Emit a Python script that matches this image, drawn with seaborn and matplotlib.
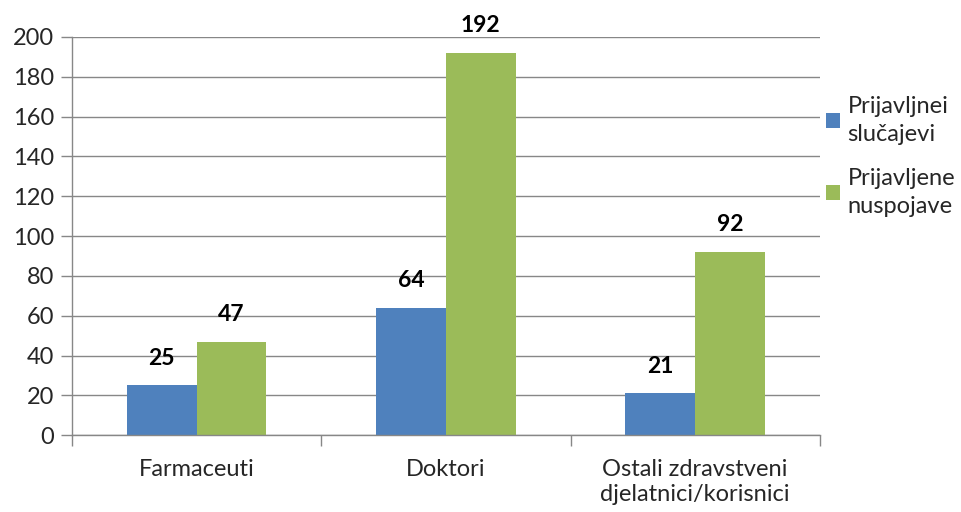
import matplotlib
matplotlib.use("Agg")
import matplotlib.pyplot as plt
import seaborn as sns
import pandas as pd
from matplotlib.ticker import FixedLocator

categories = ["Farmaceuti", "Doktori", "Ostali zdravstveni\ndjelatnici/korisnici"]
series_names = ["Prijavljnei\nslučajevi", "Prijavljene\nnuspojave"]
slucajevi = [25, 64, 21]
nuspojave = [47, 192, 92]
y_ticks = [0, 20, 40, 60, 80, 100, 120, 140, 160, 180, 200]
colors = ["#4F81BD", "#9BBB59"]

df = pd.DataFrame({
    "cat": categories * 2,
    "series": [series_names[0]] * 3 + [series_names[1]] * 3,
    "value": slucajevi + nuspojave,
})

sns.set_theme(style="white")
plt.rcParams["font.family"] = ["Lato", "DejaVu Sans"]

fig = plt.figure(figsize=(9.61, 5.12), dpi=100)
ax = fig.add_axes([0.075, 0.150, 0.778, 0.778])

sns.barplot(data=df, x="cat", y="value", hue="series", order=categories,
            hue_order=series_names, palette=colors, width=0.56,
            saturation=1, ax=ax, legend=True, linewidth=0)

for cont in ax.containers:
    ax.bar_label(cont, fmt="%d", padding=12, fontsize=16.5, fontweight="bold", color="black")

ax.set_ylim(0, 200)
ax.set_xlim(-0.5, 2.5)
ax.set_yticks(y_ticks)
ax.set_yticklabels([str(t) for t in y_ticks], fontsize=17)
ax.yaxis.grid(True, color="#878787", linewidth=1)
ax.set_axisbelow(True)
ax.tick_params(axis="y", length=8, width=1, color="#878787", pad=5, direction="out", left=True)
ax.tick_params(axis="x", which="major", length=0, pad=17, labelsize=17)
ax.xaxis.set_minor_locator(FixedLocator([-0.5, 0.5, 1.5, 2.5]))
ax.tick_params(axis="x", which="minor", length=8, width=1, color="#878787", bottom=True)
for lbl in ax.get_xticklabels():
    lbl.set_linespacing(1.25)
ax.set_xlabel("")
ax.set_ylabel("")
for s in ["top", "right"]:
    ax.spines[s].set_visible(False)
for s in ["left", "bottom"]:
    ax.spines[s].set_color("#878787")
    ax.spines[s].set_linewidth(1)

leg = ax.legend(loc="center left", bbox_to_anchor=(0.993, 0.70), frameon=False,
                fontsize=17, handlelength=0.6, handleheight=0.6,
                handletextpad=0.3, labelspacing=1.0, borderaxespad=0.1)
for t in leg.get_texts():
    t.set_linespacing(1.4)

fig.savefig("out.png", dpi=100)
